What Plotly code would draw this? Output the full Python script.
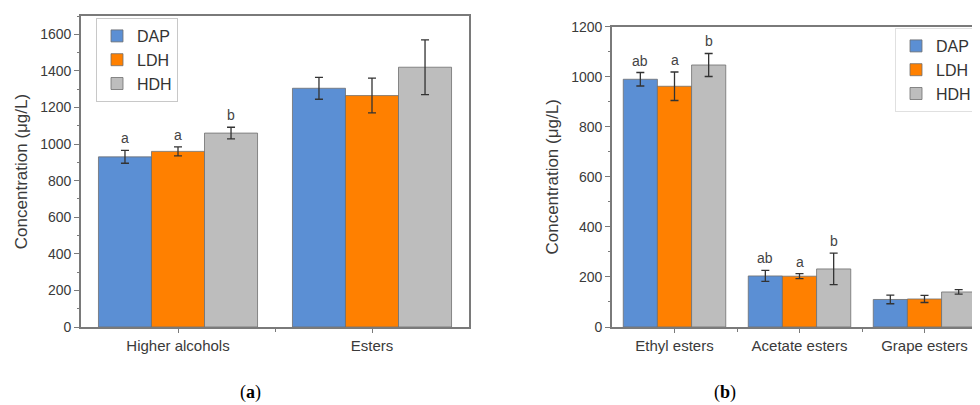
import plotly.graph_objects as go

# ---------------- data ----------------
series = ["DAP", "LDH", "HDH"]
colors = ["#5B8FD4", "#FF8000", "#BDBDBD"]

cats_a = ["Higher alcohols", "Esters"]
vals_a = {"DAP": [930, 1305], "LDH": [960, 1265], "HDH": [1060, 1420]}
errs_a = {"DAP": [35, 60], "LDH": [25, 95], "HDH": [32, 150]}
letters_a = {"DAP": ["a", ""], "LDH": ["a", ""], "HDH": ["b", ""]}

cats_b = ["Ethyl esters", "Acetate esters", "Grape esters"]
vals_b = {"DAP": [990, 204, 110], "LDH": [962, 203, 112], "HDH": [1047, 232, 140]}
errs_b = {"DAP": [27, 22, 17], "LDH": [57, 10, 14], "HDH": [46, 63, 9]}
letters_b = {"DAP": ["ab", "ab", ""], "LDH": ["a", "a", ""], "HDH": ["b", "b", ""]}

yticks_a = [0, 200, 400, 600, 800, 1000, 1200, 1400, 1600]
yticks_b = [0, 200, 400, 600, 800, 1000, 1200]

# ---------------- layout constants ----------------
# the page body has an 8px margin, so the figure is drawn 8px right/down;
# work in screen pixels and convert.
OFF = 8
W, H = 980 - OFF, 405 - OFF
def px_x(sx):
    return (sx - OFF) / W
def px_y(sy):
    return (H - (sy - OFF)) / H

BARGAP = 0.18
AX = "#7a7a7a"
TXT = "#3a3a3a"
FONT = "Liberation Sans"

fig = go.Figure()

def add_panel(cats, vals, errs, letters, xa, ya, legend):
    xs = list(range(len(cats)))
    n = len(series)
    bw = (1 - BARGAP) / n
    for j, s in enumerate(series):
        fig.add_trace(go.Bar(
            x=xs, y=vals[s], name=s, xaxis=xa, yaxis=ya, legend=legend,
            marker=dict(color=colors[j], line=dict(color="#6f6f6f", width=0.8)),
            error_y=dict(type="data", array=errs[s], color="#333333",
                         thickness=1.3, width=4),
        ))
        off = (j - (n - 1) / 2) * bw
        for i, t in enumerate(letters[s]):
            if t:
                fig.add_annotation(
                    x=xs[i] + off, y=vals[s][i] + errs[s][i],
                    xref=xa, yref=ya,
                    text=t, showarrow=False, yanchor="bottom", yshift=2,
                    font=dict(family=FONT, size=14, color="#444444"))

add_panel(cats_a, vals_a, errs_a, letters_a, "x", "y", "legend")
add_panel(cats_b, vals_b, errs_b, letters_b, "x2", "y2", "legend2")

common_x = dict(showline=True, linecolor=AX, linewidth=1.6, ticks="outside",
                ticklen=4, tickcolor=AX, tickwidth=1, showgrid=False, zeroline=False,
                tickfont=dict(family=FONT, size=15, color=TXT),
                minor=dict(tickmode="array", ticks="outside", ticklen=3,
                           tickcolor=AX, showgrid=False))
common_y = dict(showline=True, linecolor=AX, linewidth=1.6, ticks="outside",
                ticklen=5, tickcolor=AX, tickwidth=1, showgrid=False, zeroline=False,
                tickfont=dict(family=FONT, size=14, color=TXT),
                title=dict(text="Concentration (μg/L)",
                           font=dict(family=FONT, size=17, color=TXT), standoff=8),
                minor=dict(dtick=100, ticks="outside", ticklen=2.5, tickcolor=AX,
                           showgrid=False))

xa = dict(common_x)
xa.update(domain=[px_x(81), px_x(469)], range=[-0.5, 1.5], tickmode="array",
          tickvals=list(range(len(cats_a))), ticktext=cats_a, mirror=True,
          anchor="y")
xa["minor"] = dict(common_x["minor"], tickvals=[0.5])
ya = dict(common_y)
ya.update(domain=[px_y(327), px_y(16)], range=[0, 1700], tickmode="array",
          tickvals=yticks_a, mirror=True, anchor="x")

xb = dict(common_x)
xb.update(domain=[px_x(612), 1.0], range=[-0.5, 2.444], tickmode="array",
          tickvals=list(range(len(cats_b))), ticktext=cats_b, mirror=True,
          anchor="y2")
xb["minor"] = dict(common_x["minor"], tickvals=[0.5, 1.5])
yb = dict(common_y)
yb.update(domain=[px_y(327), px_y(26.7)], range=[0, 1200], tickmode="array",
          tickvals=yticks_b, mirror=False, anchor="x2")

leg_common = dict(bgcolor="rgba(255,255,255,0.9)",
                  font=dict(family=FONT, size=16, color="#333333"),
                  xanchor="left", yanchor="top", tracegroupgap=0,
                  itemwidth=30)

fig.update_layout(
    width=W, height=H, margin=dict(l=0, r=0, t=0, b=0, autoexpand=False),
    paper_bgcolor="white", plot_bgcolor="white",
    barmode="group", bargap=BARGAP, bargroupgap=0,
    xaxis=xa, yaxis=ya, xaxis2=xb, yaxis2=yb,
    legend=dict(leg_common, x=px_x(96), y=px_y(18),
                bordercolor="#c8c8c8", borderwidth=1),
    legend2=dict(leg_common, x=px_x(895), y=px_y(28),
                 bordercolor="#e0e0e0", borderwidth=1),
    font=dict(family=FONT),
)

fig.add_annotation(x=px_x(238), y=px_y(392), xref="paper", yref="paper",
                   yanchor="middle", text="(<b>a</b>)", showarrow=False,
                   font=dict(family="Liberation Serif", size=18, color="black"))
fig.add_annotation(x=px_x(738), y=px_y(392), xref="paper", yref="paper",
                   yanchor="middle", text="(<b>b</b>)", showarrow=False,
                   font=dict(family="Liberation Serif", size=18, color="black"))

fig.write_html("out.html")
